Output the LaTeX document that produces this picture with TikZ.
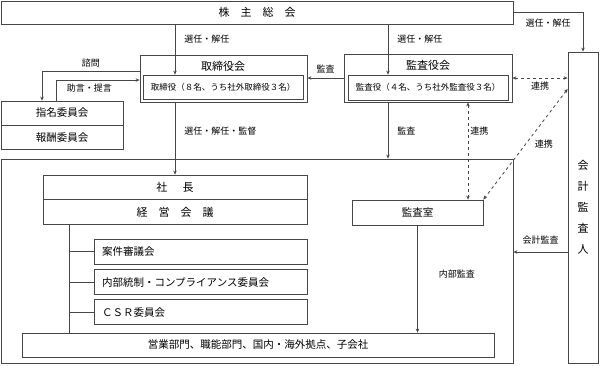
\documentclass[tikz,border=0pt]{standalone}
\usepackage{fontspec}
\setmainfont{Noto Sans CJK JP}
\usepackage{tikz}
\usetikzlibrary{arrows.meta, positioning, calc}
\usepackage{xcolor}
\definecolor{linegray}{RGB}{70,70,70}
\tikzstyle{box} = [rectangle, draw=linegray, line width=0.8pt, inner sep=0pt, font=\fontsize{10.5pt}{12pt}\selectfont]
\tikzstyle{headtext} = [font=\fontsize{11pt}{12pt}\selectfont, inner sep=0pt]
\tikzstyle{committee} = [box, minimum height=25pt, text width=197pt, align=left, inner xsep=8pt]
\tikzstyle{lbl} = [font=\fontsize{9pt}{10pt}\selectfont, inner sep=1pt]
\tikzstyle{wire} = [draw=linegray, line width=0.8pt]
\tikzstyle{arrow} = [-{Stealth[length=4pt, width=3.5pt]}, wire]
\tikzstyle{link} = [{Stealth[length=4pt, width=3.5pt]}-{Stealth[length=4pt, width=3.5pt]}, dashed, wire]

\begin{document}
\begin{tikzpicture}[x=1pt, y=-1pt]
  \useasboundingbox (0,0) rectangle (600,365);

  % x and y guides for the connectors
  \coordinate (elect) at (175,0);
  \coordinate (audsel) at (388,0);
  \coordinate (coop) at (468,0);
  \coordinate (trunk) at (69,0);
  \coordinate (consult) at (42,71);
  \coordinate (advice) at (56,80);
  \coordinate (acct) at (0,89);
  \coordinate (extaudit) at (0,252);

  \node[box, minimum width=512pt, minimum height=23pt, font=\fontsize{11pt}{12pt}\selectfont] (meeting) at (257,12.5) {株　主　総　会};

  \node[box, minimum width=167pt, minimum height=47pt] (board) at (223.5,78.5) {};
  \node[headtext] (boardtitle) at (223,66) {取締役会};
  \node[box, minimum width=160pt, minimum height=24pt, font=\fontsize{8.5pt}{10pt}\selectfont] (directors) at (223,87) {取締役（８名、うち社外取締役３名）};

  \node[box, minimum width=168pt, minimum height=48pt] (auditboard) at (428,78) {};
  \node[headtext] (audittitle) at (428,65) {監査役会};
  \node[box, minimum width=160pt, minimum height=25pt, font=\fontsize{8.5pt}{10pt}\selectfont] (auditors) at (428,87.5) {監査役（４名、うち社外監査役３名）};

  \node[box, minimum width=30pt, minimum height=311pt, align=center, font=\fontsize{11pt}{21pt}\selectfont] (accountant) at (583,207.5) {会\\計\\監\\査\\人};

  \node[box, minimum width=122pt, minimum height=24pt] (nomination) at (62,113) {指名委員会};
  \node[box, minimum width=122pt, minimum height=24pt, below=0pt of nomination] (remuneration) {報酬委員会};

  \node[box, minimum width=512pt, minimum height=204pt] (exec) at (257,261) {};
  \node[box, minimum width=264pt, minimum height=24pt, font=\fontsize{11pt}{12pt}\selectfont] (president) at (175,187) {社\hspace{1.4em}長};
  \node[box, minimum width=264pt, minimum height=25pt, font=\fontsize{11pt}{12pt}\selectfont, below=0pt of president] (mgmt) {経　営　会　議};

  \node[committee] (review) at (200.5,251.5) {案件審議会};
  \node[committee, below=5pt of review] (compliance) {内部統制・コンプライアンス委員会};
  \node[committee, below=4pt of compliance] (csr) {ＣＳＲ委員会};

  \node[box, minimum width=472pt, minimum height=24pt] (units) at (258,345) {営業部門、職能部門、国内・海外拠点、子会社};
  \node[box, minimum width=131pt, minimum height=25pt] (auditoffice) at (417.5,212.5) {監査室};

  \draw[arrow] (meeting.south -| elect) -- node[lbl, pos=0.3, right=8pt] {選任・解任} (directors.north -| elect);
  \draw[arrow] (meeting.south -| audsel) -- node[lbl, pos=0.3, right=8pt] {選任・解任} (auditors.north -| audsel);
  \draw[arrow] (meeting.east) -| node[lbl, pos=0.25, below=5pt] {選任・解任} (accountant.north);
  \draw[arrow] (auditboard.west) -- node[lbl, above=4pt] {監査} (board.east |- auditboard.west);
  \draw[arrow] (board.west |- consult) -| node[lbl, pos=0.25, above=2pt] {諮問} (nomination.north -| consult);
  \draw[arrow] (nomination.north -| advice) |- node[lbl, pos=0.7, below=2.5pt] {助言・提言} (board.west |- advice);
  \draw[arrow] (board.south -| elect) -- node[lbl, pos=0.4, right=8pt] {選任・解任・監督} (president.north -| elect);
  \draw[arrow] (auditboard.south -| audsel) -- node[lbl, right=8pt] {監査} (exec.north -| audsel);
  \draw[link] (auditboard.east) -- node[lbl, below=3pt] {連携} (accountant.west |- auditboard.east);
  \draw[link] (auditboard.south -| coop) -- node[lbl, pos=0.3, right=1pt] {連携} (auditoffice.north -| coop);
  \draw[link] (accountant.west |- acct) -- node[lbl, right=8pt] {連携} (auditoffice.north east);
  \draw[arrow] (auditoffice.south) -- node[lbl, pos=0.45, right=20pt] {内部監査} (units.north -| auditoffice.south);
  \draw[arrow] (accountant.west |- extaudit) -- node[lbl, above=6pt] {会計監査} (exec.east |- extaudit);

  \draw[wire] (mgmt.south -| trunk) -- (units.north -| trunk);
  \foreach \n in {review, compliance, csr}
    \draw[wire] (\n.west -| trunk) -- (\n.west);
\end{tikzpicture}
\end{document}
